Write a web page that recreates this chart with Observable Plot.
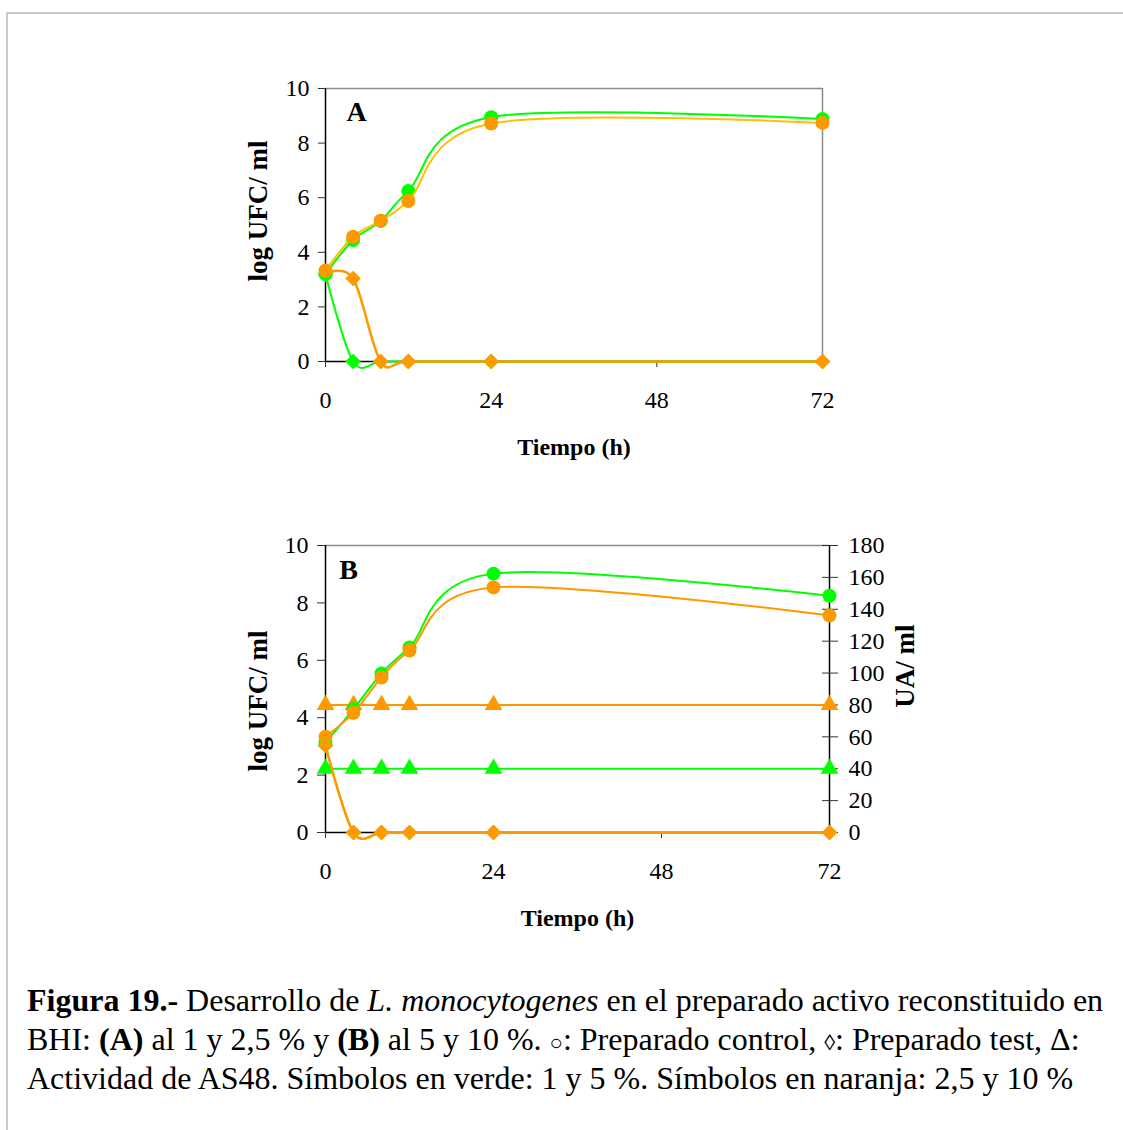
<!DOCTYPE html>
<html>
<head>
<meta charset="utf-8">
<script src="https://cdn.jsdelivr.net/npm/d3@7"></script>
<script src="https://cdn.jsdelivr.net/npm/@observablehq/plot@0.6"></script>
<style>
  html, body { margin: 0; padding: 0; background: #fff; }
  body { width: 1123px; height: 1130px; position: relative; overflow: hidden; font-family: "Liberation Serif", "Times New Roman", serif; }
  #page-border { position: absolute; left: 6px; top: 12px; right: -4px; bottom: -4px; border-top: 2px solid #c8c8c8; border-left: 2px solid #c8c8c8; }
  .panel { position: absolute; }
  #panelA { left: 230px; top: 70px; }
  #panelB { left: 230px; top: 525px; }
  #caption { position: absolute; left: 27px; top: 981px; font-size: 32px; line-height: 39px; color: #000; white-space: nowrap; }
  #caption > div { height: 39px; }
  #caption .sym { font-size: 22px; line-height: 1; }
</style>
</head>
<body>
<div id="page-border"></div>
<div id="panelA" class="panel"></div>
<div id="panelB" class="panel"></div>
<div id="caption">
  <div><b>Figura 19.-</b> Desarrollo de <i>L. monocytogenes</i> en el preparado activo reconstituido en</div>
  <div>BHI: <b>(A)</b> al 1 y 2,5 % y <b>(B)</b> al 5 y 10 %. <span class="sym">○</span>: Preparado control, <span class="sym">◊</span>: Preparado test, Δ:</div>
  <div>Actividad de AS48. Símbolos en verde: 1 y 5 %. Símbolos en naranja: 2,5 y 10 %</div>
</div>
<script>
// Sampling times (h)
const hours = [0, 4, 8, 12, 24, 72];
const xTicks = [0, 24, 48, 72];
const yTicks = [0, 2, 4, 6, 8, 10];
const uaTicks = [0, 20, 40, 60, 80, 100, 120, 140, 160, 180];

// Panel A: 1 % and 2,5 % (log UFC/ml)
const controlA1 = [3.2, 4.45, 5.15, 6.25, 8.95, 8.88];
const controlA25 = [3.33, 4.57, 5.16, 5.88, 8.72, 8.74];
const testA1 = [3.2, 0, 0, 0, 0, 0];
const testA25 = [3.2, 3.04, 0, 0, 0, 0];

// Panel B: 5 % and 10 % (log UFC/ml)
const controlB5 = [3.13, 4.3, 5.54, 6.45, 9.02, 8.25];
const controlB10 = [3.34, 4.17, 5.4, 6.34, 8.54, 7.56];
const testB5 = [3.03, 0, 0, 0, 0, 0];
const testB10 = [3.03, 0, 0, 0, 0, 0];

// Panel B: AS48 activity (UA/ml, right axis)
const activityB5 = [40, 40, 40, 40, 40, 40];
const activityB10 = [80, 80, 80, 80, 80, 80];

const GREEN = "#00ff00";
const ORANGE = "#ff9900";
const GOLD = "#ffc000";
const UA_MAX = 180; // right axis top, aligned with log 10 on the left

const rows = (values) => hours.map((h, i) => ({h, v: values[i]}));

function series(values, color, symbol, r, lineColor = color, width = 2) {
  const data = rows(values);
  return [
    Plot.line(data, {x: "h", y: "v", stroke: lineColor, strokeWidth: width, curve: "cardinal"}),
    Plot.dot(data, {x: "h", y: "v", symbol, r, fill: color, stroke: "none"})
  ];
}

function activity(values, color) {
  const data = rows(values);
  const y = (d) => d.v * 10 / UA_MAX;
  return [
    Plot.line(data, {x: "h", y, stroke: color, strokeWidth: 2}),
    Plot.dot(data, {x: "h", y, symbol: "triangle", r: 6.6, fill: color, stroke: "none"})
  ];
}

const common = {
  x: {domain: [0, 72]},
  y: {domain: [0, 10]},
  style: {fontFamily: "Liberation Serif, Times New Roman, serif", fontSize: "24px", color: "#000", background: "transparent", overflow: "visible"}
};

const bold = {fontWeight: "bold", fill: "#000", textAnchor: "middle", lineAnchor: "middle"};

// Panel A
const plotA = Plot.plot({
  ...common,
  width: 650, height: 400,
  marginLeft: 95, marginRight: 58, marginTop: 18, marginBottom: 109,
  marks: [
    Plot.ruleY([10], {stroke: "#8c8c8c", strokeWidth: 1.5}),
    Plot.ruleX([72], {stroke: "#8c8c8c", strokeWidth: 1.5}),
    Plot.ruleX([0], {stroke: "#000", strokeWidth: 1.5}),
    Plot.ruleY([0], {stroke: "#000", strokeWidth: 1.5}),
    Plot.axisY(yTicks, {anchor: "left", tickSize: 7, tickPadding: 9, stroke: "#333", label: null}),
    Plot.axisX(xTicks, {anchor: "bottom", tickSize: 6, tickPadding: 23, stroke: "#333", label: null}),
    ...series(testA1, GREEN, "diamond2", 7),
    ...series(testA25, ORANGE, "diamond2", 7, ORANGE, 2.5),
    ...series(controlA1, GREEN, "circle", 7),
    ...series(controlA25, ORANGE, "circle", 7, GOLD),
    Plot.text(["A"], {frameAnchor: "top-left", dx: 31, dy: 24, text: d => d, fontSize: 28, ...bold}),
    Plot.text(["log UFC/ ml"], {frameAnchor: "left", dx: -67, dy: -14, rotate: -90, text: d => d, fontSize: 27, ...bold}),
    Plot.text(["Tiempo (h)"], {frameAnchor: "bottom", dy: 86, text: d => d, fontSize: 24, ...bold})
  ]
});
document.getElementById("panelA").append(plotA);

// Panel B
const uaPos = uaTicks.map(v => v * 10 / UA_MAX);
const plotB = Plot.plot({
  ...common,
  width: 720, height: 420,
  marginLeft: 95, marginRight: 121, marginTop: 20, marginBottom: 113,
  marks: [
    Plot.ruleY([10], {stroke: "#8c8c8c", strokeWidth: 1.5}),
    Plot.ruleX([0], {stroke: "#000", strokeWidth: 1.5}),
    Plot.ruleX([72], {stroke: "#000", strokeWidth: 1.5}),
    Plot.ruleY([0], {stroke: "#000", strokeWidth: 1.5}),
    Plot.axisY(yTicks, {anchor: "left", tickSize: 8, tickPadding: 9, stroke: "#333", label: null}),
    Plot.axisY(uaPos, {anchor: "right", tickSize: 8, tickPadding: 11, stroke: "#333", label: null, tickFormat: d => Math.round(d * UA_MAX / 10)}),
    Plot.axisY(uaPos, {anchor: "right", tickSize: -8, stroke: "#333", label: null, tickFormat: () => ""}),
    Plot.axisX(xTicks, {anchor: "bottom", tickSize: 6, tickPadding: 23, stroke: "#333", label: null}),
    ...activity(activityB10, ORANGE),
    ...activity(activityB5, GREEN),
    ...series(controlB5, GREEN, "circle", 7),
    ...series(controlB10, ORANGE, "circle", 7),
    ...series(testB5, GREEN, "diamond2", 7),
    ...series(testB10, ORANGE, "diamond2", 7, ORANGE, 2.5),
    Plot.text(["B"], {frameAnchor: "top-left", dx: 23, dy: 25, text: d => d, fontSize: 28, ...bold}),
    Plot.text(["log UFC/ ml"], {frameAnchor: "left", dx: -67, dy: 12, rotate: -90, text: d => d, fontSize: 27, ...bold}),
    Plot.text(["UA/ ml"], {frameAnchor: "right", dx: 76, dy: -23, rotate: -90, text: d => d, fontSize: 27, ...bold}),
    Plot.text(["Tiempo (h)"], {frameAnchor: "bottom", dy: 86, text: d => d, fontSize: 24, ...bold})
  ]
});
document.getElementById("panelB").append(plotB);
</script>
</body>
</html>
